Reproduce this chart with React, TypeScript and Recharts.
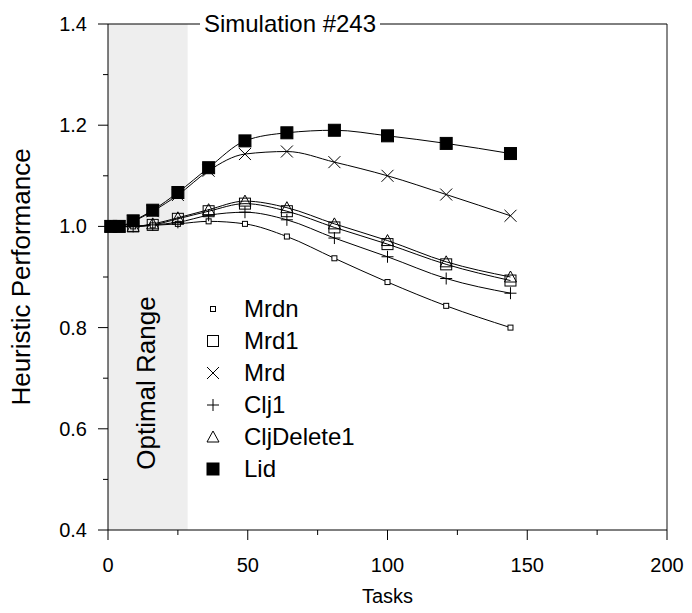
import React from 'react';
import { ComposedChart, Line, XAxis, YAxis, ReferenceArea, ReferenceLine, Label } from 'recharts';

const tasks = [1, 4, 9, 16, 25, 36, 49, 64, 81, 100, 121, 144];
const mrdn = [1.0, 1.0, 1.0, 1.002, 1.005, 1.01, 1.005, 0.98, 0.937, 0.89, 0.843, 0.8];
const mrd1 = [1.0, 1.0, 1.0, 1.003, 1.015, 1.03, 1.045, 1.03, 0.998, 0.965, 0.925, 0.893];
const mrd = [1.0, 1.0, 1.01, 1.03, 1.062, 1.11, 1.143, 1.148, 1.127, 1.1, 1.063, 1.021];
const clj1 = [1.0, 1.0, 1.0, 1.003, 1.008, 1.022, 1.028, 1.013, 0.977, 0.94, 0.897, 0.868];
const cljDelete1 = [1.0, 1.0, 1.0, 1.005, 1.017, 1.033, 1.05, 1.037, 1.005, 0.972, 0.93, 0.9];
const lid = [1.0, 1.0, 1.011, 1.032, 1.067, 1.116, 1.169, 1.185, 1.19, 1.179, 1.164, 1.144];

const xTicks = [0, 25, 50, 75, 100, 125, 150, 175, 200];
const yTicks = [0.4, 0.5, 0.6, 0.7, 0.8, 0.9, 1.0, 1.1, 1.2, 1.3, 1.4];
const optimalRange = [0, 28.5];
const title = 'Simulation #243';

const series = [
  { key: 'mrdn', name: 'Mrdn', shape: 'smallSquare', values: mrdn },
  { key: 'mrd1', name: 'Mrd1', shape: 'square', values: mrd1 },
  { key: 'mrd', name: 'Mrd', shape: 'cross', values: mrd },
  { key: 'clj1', name: 'Clj1', shape: 'plus', values: clj1 },
  { key: 'cljDelete1', name: 'CljDelete1', shape: 'triangle', values: cljDelete1 },
  { key: 'lid', name: 'Lid', shape: 'filledSquare', values: lid },
];

const data = tasks.map((t, i) => {
  const row: any = { tasks: t };
  series.forEach((s) => (row[s.key] = s.values[i]));
  return row;
});

const FONT = '"Liberation Sans", Arial, sans-serif';

function Marker({ cx, cy, shape }: { cx: number; cy: number; shape: string }) {
  if (cx == null || cy == null) return null;
  switch (shape) {
    case 'smallSquare':
      return <rect x={cx - 2.5} y={cy - 2.5} width={5} height={5} fill="#fff" stroke="#000" strokeWidth={1} />;
    case 'square':
      return <rect x={cx - 5.5} y={cy - 5.5} width={11} height={11} fill="none" stroke="#000" strokeWidth={1} />;
    case 'cross':
      return (
        <g stroke="#000" strokeWidth={1}>
          <line x1={cx - 6} y1={cy - 6} x2={cx + 6} y2={cy + 6} />
          <line x1={cx - 6} y1={cy + 6} x2={cx + 6} y2={cy - 6} />
        </g>
      );
    case 'plus':
      return (
        <g stroke="#000" strokeWidth={1}>
          <line x1={cx - 6} y1={cy} x2={cx + 6} y2={cy} />
          <line x1={cx} y1={cy - 6} x2={cx} y2={cy + 6} />
        </g>
      );
    case 'triangle':
      return <polygon points={`${cx},${cy - 6} ${cx - 6},${cy + 5} ${cx + 6},${cy + 5}`} fill="none" stroke="#000" strokeWidth={1} />;
    case 'filledSquare':
      return <rect x={cx - 6} y={cy - 6} width={12} height={12} fill="#000" stroke="#000" />;
    default:
      return null;
  }
}

const XTick = (props: any) => {
  const { x, y, payload } = props;
  const major = payload.value % 50 === 0;
  return (
    <g>
      <line x1={x} y1={y} x2={x} y2={y + (major ? 10 : 5)} stroke="#000" />
      {major && (
        <text x={x} y={y + 42} textAnchor="middle" fontSize={20} fontFamily={FONT} fill="#000">
          {payload.value}
        </text>
      )}
    </g>
  );
};

const YTick = (props: any) => {
  const { x, y, payload } = props;
  const major = Math.round(payload.value * 10) % 2 === 0;
  return (
    <g>
      <line x1={x} y1={y} x2={x - (major ? 10 : 5)} y2={y} stroke="#000" />
      {major && (
        <text x={x - 21} y={y + 7} textAnchor="end" fontSize={20} fontFamily={FONT} fill="#000">
          {payload.value.toFixed(1)}
        </text>
      )}
    </g>
  );
};

const TitleLabel = (props: any) => {
  const { viewBox } = props;
  const cx = viewBox.x + 182;
  return (
    <g>
      <rect x={cx - 90} y={viewBox.y - 10} width={180} height={20} fill="#fff" />
      <text x={cx} y={viewBox.y + 8} textAnchor="middle" fontSize={24} fontFamily={FONT} fill="#000">
        {title}
      </text>
    </g>
  );
};

const RangeLabel = (props: any) => {
  const { viewBox } = props;
  const cx = viewBox.x + 47;
  const cy = viewBox.y + 359;
  return (
    <text x={cx} y={cy} transform={`rotate(-90 ${cx} ${cy})`} textAnchor="middle" fontSize={26} fontFamily={FONT} fill="#000">
      Optimal Range
    </text>
  );
};

export default function App() {
  return (
    <div style={{ position: 'absolute', left: 0, top: 0, width: 692, height: 613, background: '#fff', fontFamily: FONT }}>
      <ComposedChart width={692} height={613} data={data} margin={{ top: 24, right: 25, bottom: 5, left: 48 }}>
        <ReferenceArea x1={optimalRange[0]} x2={optimalRange[1]} y1={0.4} y2={1.4} fill="#eeeeee" fillOpacity={1} stroke="none" ifOverflow="visible">
          <Label content={<RangeLabel />} />
        </ReferenceArea>
        <XAxis
          dataKey="tasks"
          type="number"
          domain={[0, 200]}
          ticks={xTicks}
          interval={0}
          height={78}
          tickLine={false}
          tickSize={0}
          tickMargin={0}
          tick={<XTick />}
          axisLine={{ stroke: '#000' }}
        >
          <Label value="Tasks" position="insideBottom" offset={5} fontSize={20} fill="#000" fontFamily={FONT} />
        </XAxis>
        <YAxis
          type="number"
          domain={[0.4, 1.4]}
          ticks={yTicks}
          interval={0}
          width={60}
          tickLine={false}
          tickSize={0}
          tickMargin={0}
          tick={<YTick />}
          axisLine={{ stroke: '#000' }}
          allowDataOverflow
        >
          <Label value="Heuristic Performance" angle={-90} position="insideLeft" offset={-27} fontSize={26} fill="#000" fontFamily={FONT} style={{ textAnchor: 'middle' }} />
        </YAxis>
        <ReferenceLine x={200} stroke="#888" strokeWidth={2} ifOverflow="visible" />
        <ReferenceLine y={1.4} stroke="#000" ifOverflow="visible" label={<TitleLabel />} />
        {series.map((s) => (
          <Line
            key={s.key}
            dataKey={s.key}
            name={s.name}
            type="monotone"
            stroke="#000"
            strokeWidth={1}
            isAnimationActive={false}
            dot={(p: any) => <Marker key={`${s.key}-${p.index}`} cx={p.cx} cy={p.cy} shape={s.shape} />}
            activeDot={false}
          />
        ))}
      </ComposedChart>
      <div style={{ position: 'absolute', left: 200, top: 293, fontFamily: FONT, fontSize: 24, color: '#000' }}>
        {series.map((s) => (
          <div key={s.key} style={{ display: 'flex', alignItems: 'center', height: 32 }}>
            <svg width={26} height={20} style={{ marginRight: 18 }}>
              <Marker cx={13} cy={10} shape={s.shape} />
            </svg>
            <span>{s.name}</span>
          </div>
        ))}
      </div>
    </div>
  );
}
